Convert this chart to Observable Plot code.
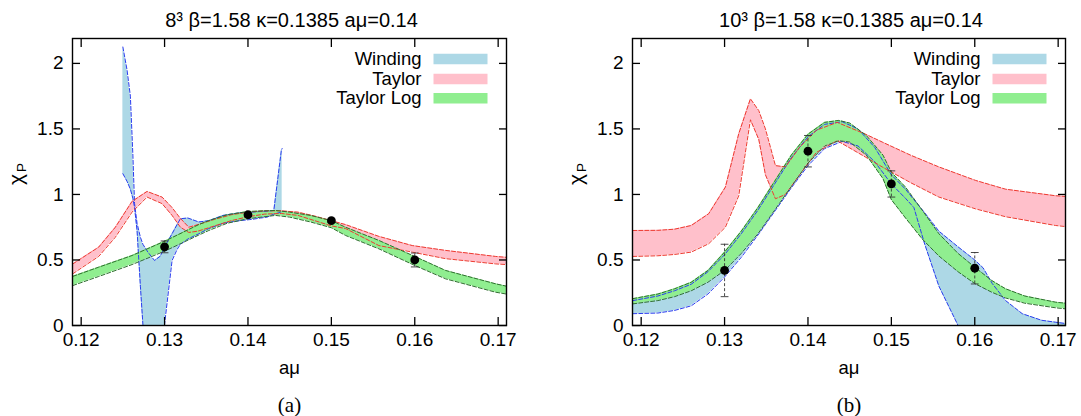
<!DOCTYPE html>
<html>
<head>
<meta charset="utf-8">
<script src="https://cdn.jsdelivr.net/npm/d3@7"></script>
<script src="https://cdn.jsdelivr.net/npm/@observablehq/plot@0.6"></script>
<style>
  body { margin: 0; background: #fff; }
  #fig { position: relative; width: 1081px; height: 416px; background: #fff; }
  #fig svg { position: absolute; top: 0; }
</style>
</head>
<body>
<div id="fig"></div>
<script>
// Axis ticks shared by both panels
const xTicks = [0.12, 0.13, 0.14, 0.15, 0.16, 0.17];
const yTicks = [0, 0.5, 1, 1.5, 2];

// Series names and colours (fill, dashed edge)
const seriesNames = ["Winding", "Taylor", "Taylor Log"];
const fillColors = ["#add8e6", "#ffc0cb", "#90ee90"];
const edgeColors = ["#2a3cf0", "#ee3a30", "#2f6f2f"];

// ---- Panel (a): 8^3 lattice ----
const aWindX  = [0.1250, 0.1255, 0.1259, 0.1262, 0.1264, 0.1267, 0.1271, 0.1274, 0.1280, 0.1288, 0.1295, 0.1300, 0.1309, 0.1315, 0.1319, 0.1328, 0.1341, 0.1353, 0.1370, 0.1390, 0.1405, 0.1415, 0.1423, 0.1431, 0.1440, 0.1441];
const aWindLo = [1.158, 1.10, 1.04, 0.97, 0.90, 0.725, 0.30, 0.01, -0.30, -0.30, -0.30, 0.01, 0.496, 0.58, 0.62, 0.66, 0.70, 0.74, 0.78, 0.80, 0.81, 0.82, 0.827, 0.85, 0.865, 0.87];
const aWindHi = [2.125, 1.95, 1.75, 1.30, 0.93, 0.78, 0.674, 0.62, 0.56, 0.496, 0.53, 0.60, 0.70, 0.77, 0.815, 0.82, 0.79, 0.80, 0.84, 0.86, 0.865, 0.87, 0.872, 0.878, 1.336, 1.35];

const aTayX  = [0.1190, 0.1221, 0.1241, 0.1261, 0.1279, 0.1297, 0.1309, 0.1319, 0.1329, 0.1340, 0.1360, 0.1380, 0.1400, 0.1420, 0.1440, 0.1460, 0.1480, 0.1500, 0.1517, 0.1557, 0.1597, 0.1637, 0.1697, 0.1710];
const aTayLo = [0.395, 0.527, 0.674, 0.865, 0.98, 0.93, 0.84, 0.75, 0.71, 0.72, 0.76, 0.80, 0.83, 0.85, 0.855, 0.84, 0.80, 0.76, 0.74, 0.61, 0.56, 0.51, 0.47, 0.465];
const aTayHi = [0.47, 0.598, 0.75, 0.947, 1.023, 0.98, 0.90, 0.817, 0.75, 0.77, 0.81, 0.845, 0.865, 0.875, 0.875, 0.865, 0.835, 0.80, 0.77, 0.68, 0.61, 0.573, 0.527, 0.52];

const aLogX  = [0.1190, 0.1221, 0.1261, 0.1300, 0.1341, 0.1353, 0.1375, 0.1400, 0.1433, 0.1450, 0.1475, 0.1500, 0.1517, 0.1557, 0.1600, 0.1637, 0.1697, 0.1710];
const aLogLo = [0.305, 0.374, 0.465, 0.567, 0.69, 0.725, 0.78, 0.815, 0.84, 0.827, 0.79, 0.746, 0.687, 0.585, 0.458, 0.356, 0.254, 0.24];
const aLogHi = [0.375, 0.445, 0.534, 0.643, 0.77, 0.80, 0.845, 0.87, 0.878, 0.865, 0.84, 0.80, 0.75, 0.649, 0.527, 0.42, 0.318, 0.30];

const aPtX   = [0.13, 0.14, 0.15, 0.16];
const aPtY   = [0.60, 0.845, 0.80, 0.50];
const aPtErr = [0.045, 0.012, 0.012, 0.053];

// ---- Panel (b): 10^3 lattice ----
const bWindX  = [0.1190, 0.1220, 0.1240, 0.1260, 0.1280, 0.1300, 0.1320, 0.1340, 0.1360, 0.1380, 0.1400, 0.1420, 0.1441, 0.1460, 0.1480, 0.1500, 0.1517, 0.1527, 0.1540, 0.1557, 0.1580, 0.1600, 0.1610, 0.1621, 0.1637, 0.1657, 0.1680, 0.1697, 0.1709];
const bWindLo = [0.09, 0.095, 0.115, 0.15, 0.24, 0.37, 0.52, 0.69, 0.87, 1.05, 1.22, 1.35, 1.405, 1.37, 1.25, 1.08, 0.97, 0.90, 0.62, 0.30, 0.0, -0.1, -0.1, -0.1, -0.1, -0.1, -0.1, -0.1, -0.1];
const bWindHi = [0.19, 0.225, 0.265, 0.315, 0.41, 0.54, 0.70, 0.88, 1.08, 1.28, 1.44, 1.535, 1.555, 1.50, 1.36, 1.15, 1.04, 0.96, 0.86, 0.72, 0.60, 0.50, 0.44, 0.32, 0.19, 0.09, 0.04, 0.025, 0.015];

const bTayX  = [0.1190, 0.1220, 0.1240, 0.1260, 0.1281, 0.1301, 0.1317, 0.1331, 0.1341, 0.1349, 0.1361, 0.1373, 0.1390, 0.1410, 0.1435, 0.1469, 0.1489, 0.1523, 0.1557, 0.1601, 0.1637, 0.1697, 0.1709];
const bTayLo = [0.527, 0.532, 0.542, 0.56, 0.624, 0.75, 0.99, 1.57, 1.42, 1.15, 0.967, 1.00, 1.15, 1.32, 1.41, 1.285, 1.21, 1.09, 0.98, 0.89, 0.83, 0.763, 0.755];
const bTayHi = [0.725, 0.726, 0.735, 0.763, 0.853, 1.056, 1.463, 1.73, 1.64, 1.50, 1.22, 1.21, 1.36, 1.49, 1.55, 1.46, 1.40, 1.30, 1.21, 1.107, 1.04, 0.99, 0.985];

const bLogX  = [0.1190, 0.1220, 0.1240, 0.1260, 0.1280, 0.1300, 0.1320, 0.1340, 0.1360, 0.1380, 0.1400, 0.1420, 0.1437, 0.1450, 0.1470, 0.1490, 0.1500, 0.1517, 0.1537, 0.1557, 0.1580, 0.1600, 0.1620, 0.1637, 0.1660, 0.1697, 0.1709];
const bLogLo = [0.165, 0.19, 0.22, 0.265, 0.33, 0.42, 0.55, 0.70, 0.88, 1.06, 1.24, 1.37, 1.41, 1.40, 1.30, 1.12, 0.96, 0.82, 0.66, 0.53, 0.41, 0.32, 0.255, 0.21, 0.17, 0.135, 0.127];
const bLogHi = [0.205, 0.24, 0.28, 0.33, 0.42, 0.56, 0.72, 0.90, 1.10, 1.30, 1.46, 1.55, 1.565, 1.545, 1.45, 1.30, 1.17, 1.056, 0.88, 0.70, 0.55, 0.445, 0.345, 0.28, 0.225, 0.178, 0.17];

const bPtX   = [0.13, 0.14, 0.15, 0.16];
const bPtY   = [0.42, 1.33, 1.08, 0.437];
const bPtErr = [0.20, 0.12, 0.10, 0.12];

// Build row tables from the arrays
const band = (xs, lo, hi) => xs.map((x, i) => ({x, lo: lo[i], hi: hi[i]}));
const points = (xs, ys, es) => xs.map((x, i) => ({x, y: ys[i], e: es[i]}));

// Custom vector shapes: a horizontal bar (legend swatch) and an error-bar cap
const barShape = {draw(ctx, l) { ctx.moveTo(0, 0); ctx.lineTo(0, -l); }};
const capShape = {draw(ctx, l) { ctx.moveTo(-l / 2, 0); ctx.lineTo(l / 2, 0); }};

const sans = "'Liberation Sans', Arial, Helvetica, sans-serif";
const legendDy = [20.5, 40.6, 59.7];

function panel(cfg) {
  const bands = [band(...cfg.wind), band(...cfg.tay), band(...cfg.log)];
  const pts = points(...cfg.pts);
  const marks = [];

  // filled bands
  bands.forEach((b, i) => marks.push(
    Plot.areaY(b, {x: "x", y1: "lo", y2: "hi", fill: fillColors[i], clip: true})
  ));
  // dashed band edges
  bands.forEach((b, i) => {
    for (const k of ["lo", "hi"]) {
      marks.push(Plot.line(b, {x: "x", y: k, stroke: edgeColors[i], strokeWidth: 1, strokeDasharray: "4,2", clip: true}));
    }
  });

  // data points with dashed error bars
  marks.push(
    Plot.ruleX(pts, {x: "x", y1: d => d.y - d.e, y2: d => d.y + d.e, stroke: "#333", strokeWidth: 0.9, strokeDasharray: "3,2"}),
    Plot.vector(pts, {x: "x", y: d => d.y + d.e, length: 7, anchor: "start", shape: capShape, stroke: "#333", strokeWidth: 0.9}),
    Plot.vector(pts, {x: "x", y: d => d.y - d.e, length: 7, anchor: "start", shape: capShape, stroke: "#333", strokeWidth: 0.9}),
    Plot.dot(pts, {x: "x", y: "y", r: 4.4, fill: "black"})
  );

  // frame and inward ticks on all four sides
  marks.push(
    Plot.frame({stroke: "black", strokeWidth: 1.4}),
    Plot.axisX(xTicks, {anchor: "bottom", tickSize: -8, fill: "none", strokeWidth: 1.3}),
    Plot.axisX(xTicks, {anchor: "top", tickSize: -8, fill: "none", strokeWidth: 1.3}),
    Plot.axisY(yTicks, {anchor: "left", tickSize: -8, fill: "none", strokeWidth: 1.3}),
    Plot.axisY(yTicks, {anchor: "right", tickSize: -8, fill: "none", strokeWidth: 1.3}),
    Plot.axisX(xTicks, {anchor: "bottom", tickSize: 0, tickPadding: 7, tickFormat: d3.format(".2f"), label: null, fontSize: 19}),
    Plot.axisY(yTicks, {anchor: "left", tickSize: 0, tickPadding: 9, tickFormat: d => String(d), label: null, fontSize: 19})
  );

  // legend
  seriesNames.forEach((name, i) => {
    marks.push(
      Plot.text([name], {text: d => d, frameAnchor: "top-right", dx: -85, dy: legendDy[i], textAnchor: "end", lineAnchor: "middle", fontSize: 18.5, fill: "black"}),
      Plot.vector([name], {frameAnchor: "top-right", dx: -73, dy: legendDy[i], length: 54, rotate: 90, anchor: "start", shape: barShape, stroke: fillColors[i], strokeWidth: 10.5, strokeLinecap: "butt"})
    );
  });

  // title, axis labels and caption
  marks.push(
    Plot.text([cfg.title], {text: d => d, frameAnchor: "top", dx: 2, dy: -17.5, lineAnchor: "middle", fontSize: 20, fill: "black"}),
    Plot.text(["aμ"], {text: d => d, frameAnchor: "bottom", dy: 43, lineAnchor: "middle", fontSize: 18.5, fill: "black"}),
    Plot.text(["χ"], {text: d => d, frameAnchor: "left", dx: -56, dy: 3, rotate: -90, lineAnchor: "middle", fontSize: 21, fill: "black"}),
    Plot.text(["P"], {text: d => d, frameAnchor: "left", dx: -51, dy: -10, rotate: -90, lineAnchor: "middle", fontSize: 13.5, fill: "black"}),
    Plot.text([cfg.caption], {text: d => d, frameAnchor: "bottom", dy: 80, lineAnchor: "middle", fontSize: 21, fontFamily: "'Liberation Serif', 'DejaVu Serif', serif", fill: "black"})
  );

  return Plot.plot({
    width: cfg.width,
    height: 416,
    marginLeft: cfg.marginLeft,
    marginRight: cfg.marginRight,
    marginTop: 38,
    marginBottom: 91,
    x: {domain: cfg.xDomain},
    y: {domain: [0, 2.19]},
    style: {fontFamily: sans, fontSize: "19px", color: "black", background: "white", overflow: "visible"},
    marks
  });
}

const fig = document.getElementById("fig");

const svgA = panel({
  title: "8³ β=1.58 κ=0.1385 aμ=0.14",
  caption: "(a)",
  width: 540, marginLeft: 72, marginRight: 34,
  xDomain: [0.11896, 0.171],
  wind: [aWindX, aWindLo, aWindHi],
  tay: [aTayX, aTayLo, aTayHi],
  log: [aLogX, aLogLo, aLogHi],
  pts: [aPtX, aPtY, aPtErr]
});
svgA.style.left = "0px";
fig.appendChild(svgA);

const svgB = panel({
  title: "10³ β=1.58 κ=0.1385 aμ=0.14",
  caption: "(b)",
  width: 541, marginLeft: 92, marginRight: 16,
  xDomain: [0.11896, 0.17088],
  wind: [bWindX, bWindLo, bWindHi],
  tay: [bTayX, bTayLo, bTayHi],
  log: [bLogX, bLogLo, bLogHi],
  pts: [bPtX, bPtY, bPtErr]
});
svgB.style.left = "540px";
fig.appendChild(svgB);
</script>
</body>
</html>
